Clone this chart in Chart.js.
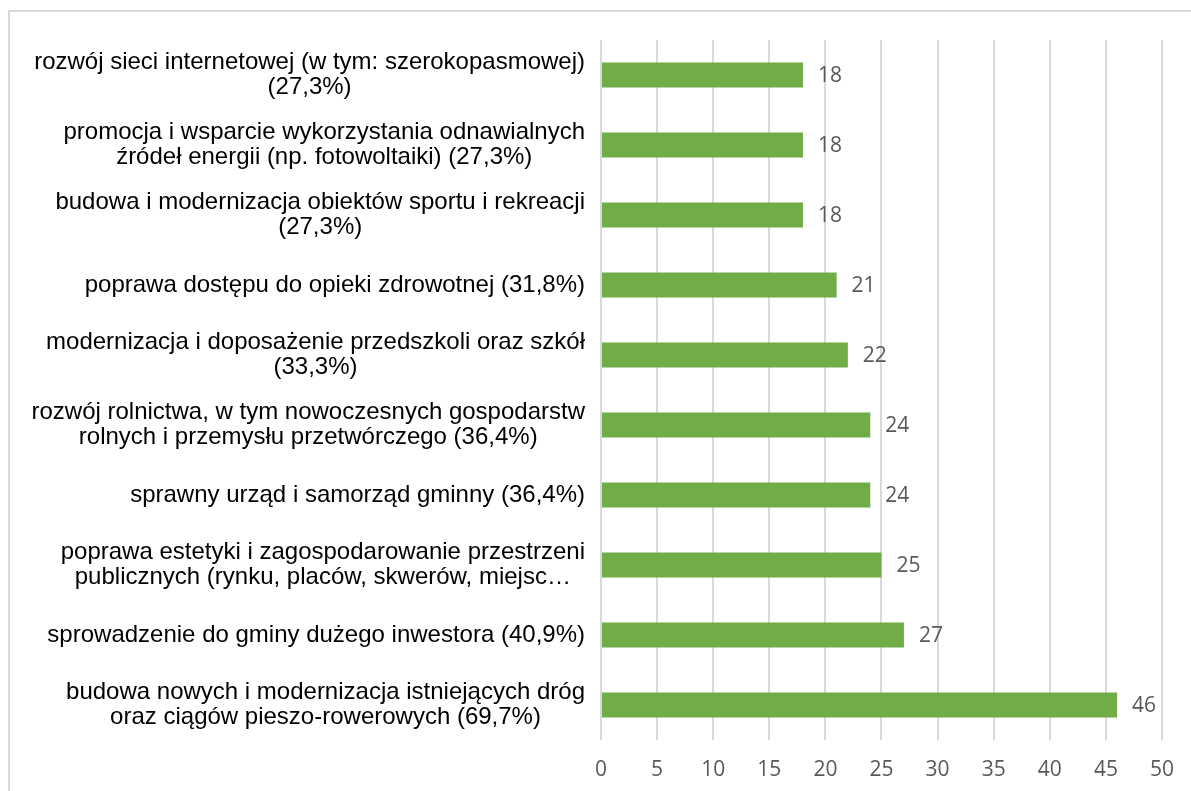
<!DOCTYPE html>
<html><head><meta charset="utf-8">
<script src="https://cdn.jsdelivr.net/npm/chart.js@4/dist/chart.umd.min.js"></script>
<style>
html,body{margin:0;padding:0;background:#fff;}
#wrap{position:relative;width:1191px;height:791px;overflow:hidden;}
#frame{position:absolute;left:8px;top:10px;width:1300px;height:900px;border:2px solid #d9d9d9;box-sizing:border-box;}
canvas{position:absolute;left:0;top:0;}
</style></head>
<body><div id="wrap"><div id="frame"></div><canvas id="c" width="1191" height="791"></canvas></div>
<script>
const categories = [
  ["rozwój sieci internetowej (w tym: szerokopasmowej)", "(27,3%)"],
  ["promocja i wsparcie wykorzystania odnawialnych", "źródeł energii (np. fotowoltaiki) (27,3%)"],
  ["budowa i modernizacja obiektów sportu i rekreacji", "(27,3%)"],
  ["poprawa dostępu do opieki zdrowotnej (31,8%)"],
  ["modernizacja i doposażenie przedszkoli oraz szkół", "(33,3%)"],
  ["rozwój rolnictwa, w tym nowoczesnych gospodarstw", "rolnych i przemysłu przetwórczego (36,4%)"],
  ["sprawny urząd i samorząd gminny (36,4%)"],
  ["poprawa estetyki i zagospodarowanie przestrzeni", "publicznych (rynku, placów, skwerów, miejsc…"],
  ["sprowadzenie do gminy dużego inwestora (40,9%)"],
  ["budowa nowych i modernizacja istniejących dróg", "oraz ciągów pieszo-rowerowych (69,7%)"]
];
const values = [18, 18, 18, 21, 22, 24, 24, 25, 27, 46];
const xTicks = [0, 5, 10, 15, 20, 25, 30, 35, 40, 45, 50];

const labelFont = '24px "Liberation Sans", Arial, sans-serif';
const numFont = '21px "Open Sans", sans-serif';

const catLabelsPlugin = {
  id: 'catLabels',
  afterDraw(chart) {
    const ctx = chart.ctx, y = chart.scales.y;
    ctx.save();
    ctx.font = labelFont;
    ctx.fillStyle = '#000';
    ctx.textBaseline = 'middle';
    ctx.textAlign = 'center';
    const right = chart.chartArea.left - 16;
    const lh = 25;
    categories.forEach((lines, i) => {
      const cy = y.getPixelForValue(i);
      const w = Math.max(...lines.map(l => ctx.measureText(l).width));
      const cx = right - w / 2;
      const y0 = cy - (lines.length - 1) * lh / 2;
      lines.forEach((l, k) => ctx.fillText(l, cx, y0 + k * lh));
    });
    ctx.restore();
  }
};
const valLabelsPlugin = {
  id: 'valLabels',
  afterDatasetsDraw(chart) {
    const ctx = chart.ctx, meta = chart.getDatasetMeta(0);
    ctx.save();
    ctx.font = numFont;
    ctx.fillStyle = '#595959';
    ctx.textBaseline = 'middle';
    ctx.textAlign = 'left';
    meta.data.forEach((bar, i) => {
      ctx.fillText(String(values[i]), bar.x + 15, bar.y + 1);
    });
    ctx.restore();
  }
};

new Chart(document.getElementById('c'), {
  type: 'bar',
  data: {
    labels: categories.map(l => l.join(' ')),
    datasets: [{
      data: values,
      backgroundColor: '#70AD47',
      borderWidth: 0,
      barPercentage: 0.9,
      categoryPercentage: 0.4
    }]
  },
  options: {
    indexAxis: 'y',
    responsive: false,
    animation: false,
    layout: { padding: { left: 601, right: 27, top: 40, bottom: 0 } },
    plugins: { legend: { display: false }, tooltip: { enabled: false } },
    scales: {
      x: {
        min: 0, max: 50,
        afterBuildTicks(scale) { scale.ticks = xTicks.map(v => ({ value: v })); },
        afterFit(scale) { scale.height = 51; },
        grid: { color: '#d9d9d9', lineWidth: 2, drawTicks: false },
        border: { display: false },
        ticks: { font: { family: '"Open Sans", sans-serif', size: 21 }, color: '#595959', padding: 17 }
      },
      y: {
        display: false
      }
    }
  },
  plugins: [catLabelsPlugin, valLabelsPlugin]
});
</script></body></html>
